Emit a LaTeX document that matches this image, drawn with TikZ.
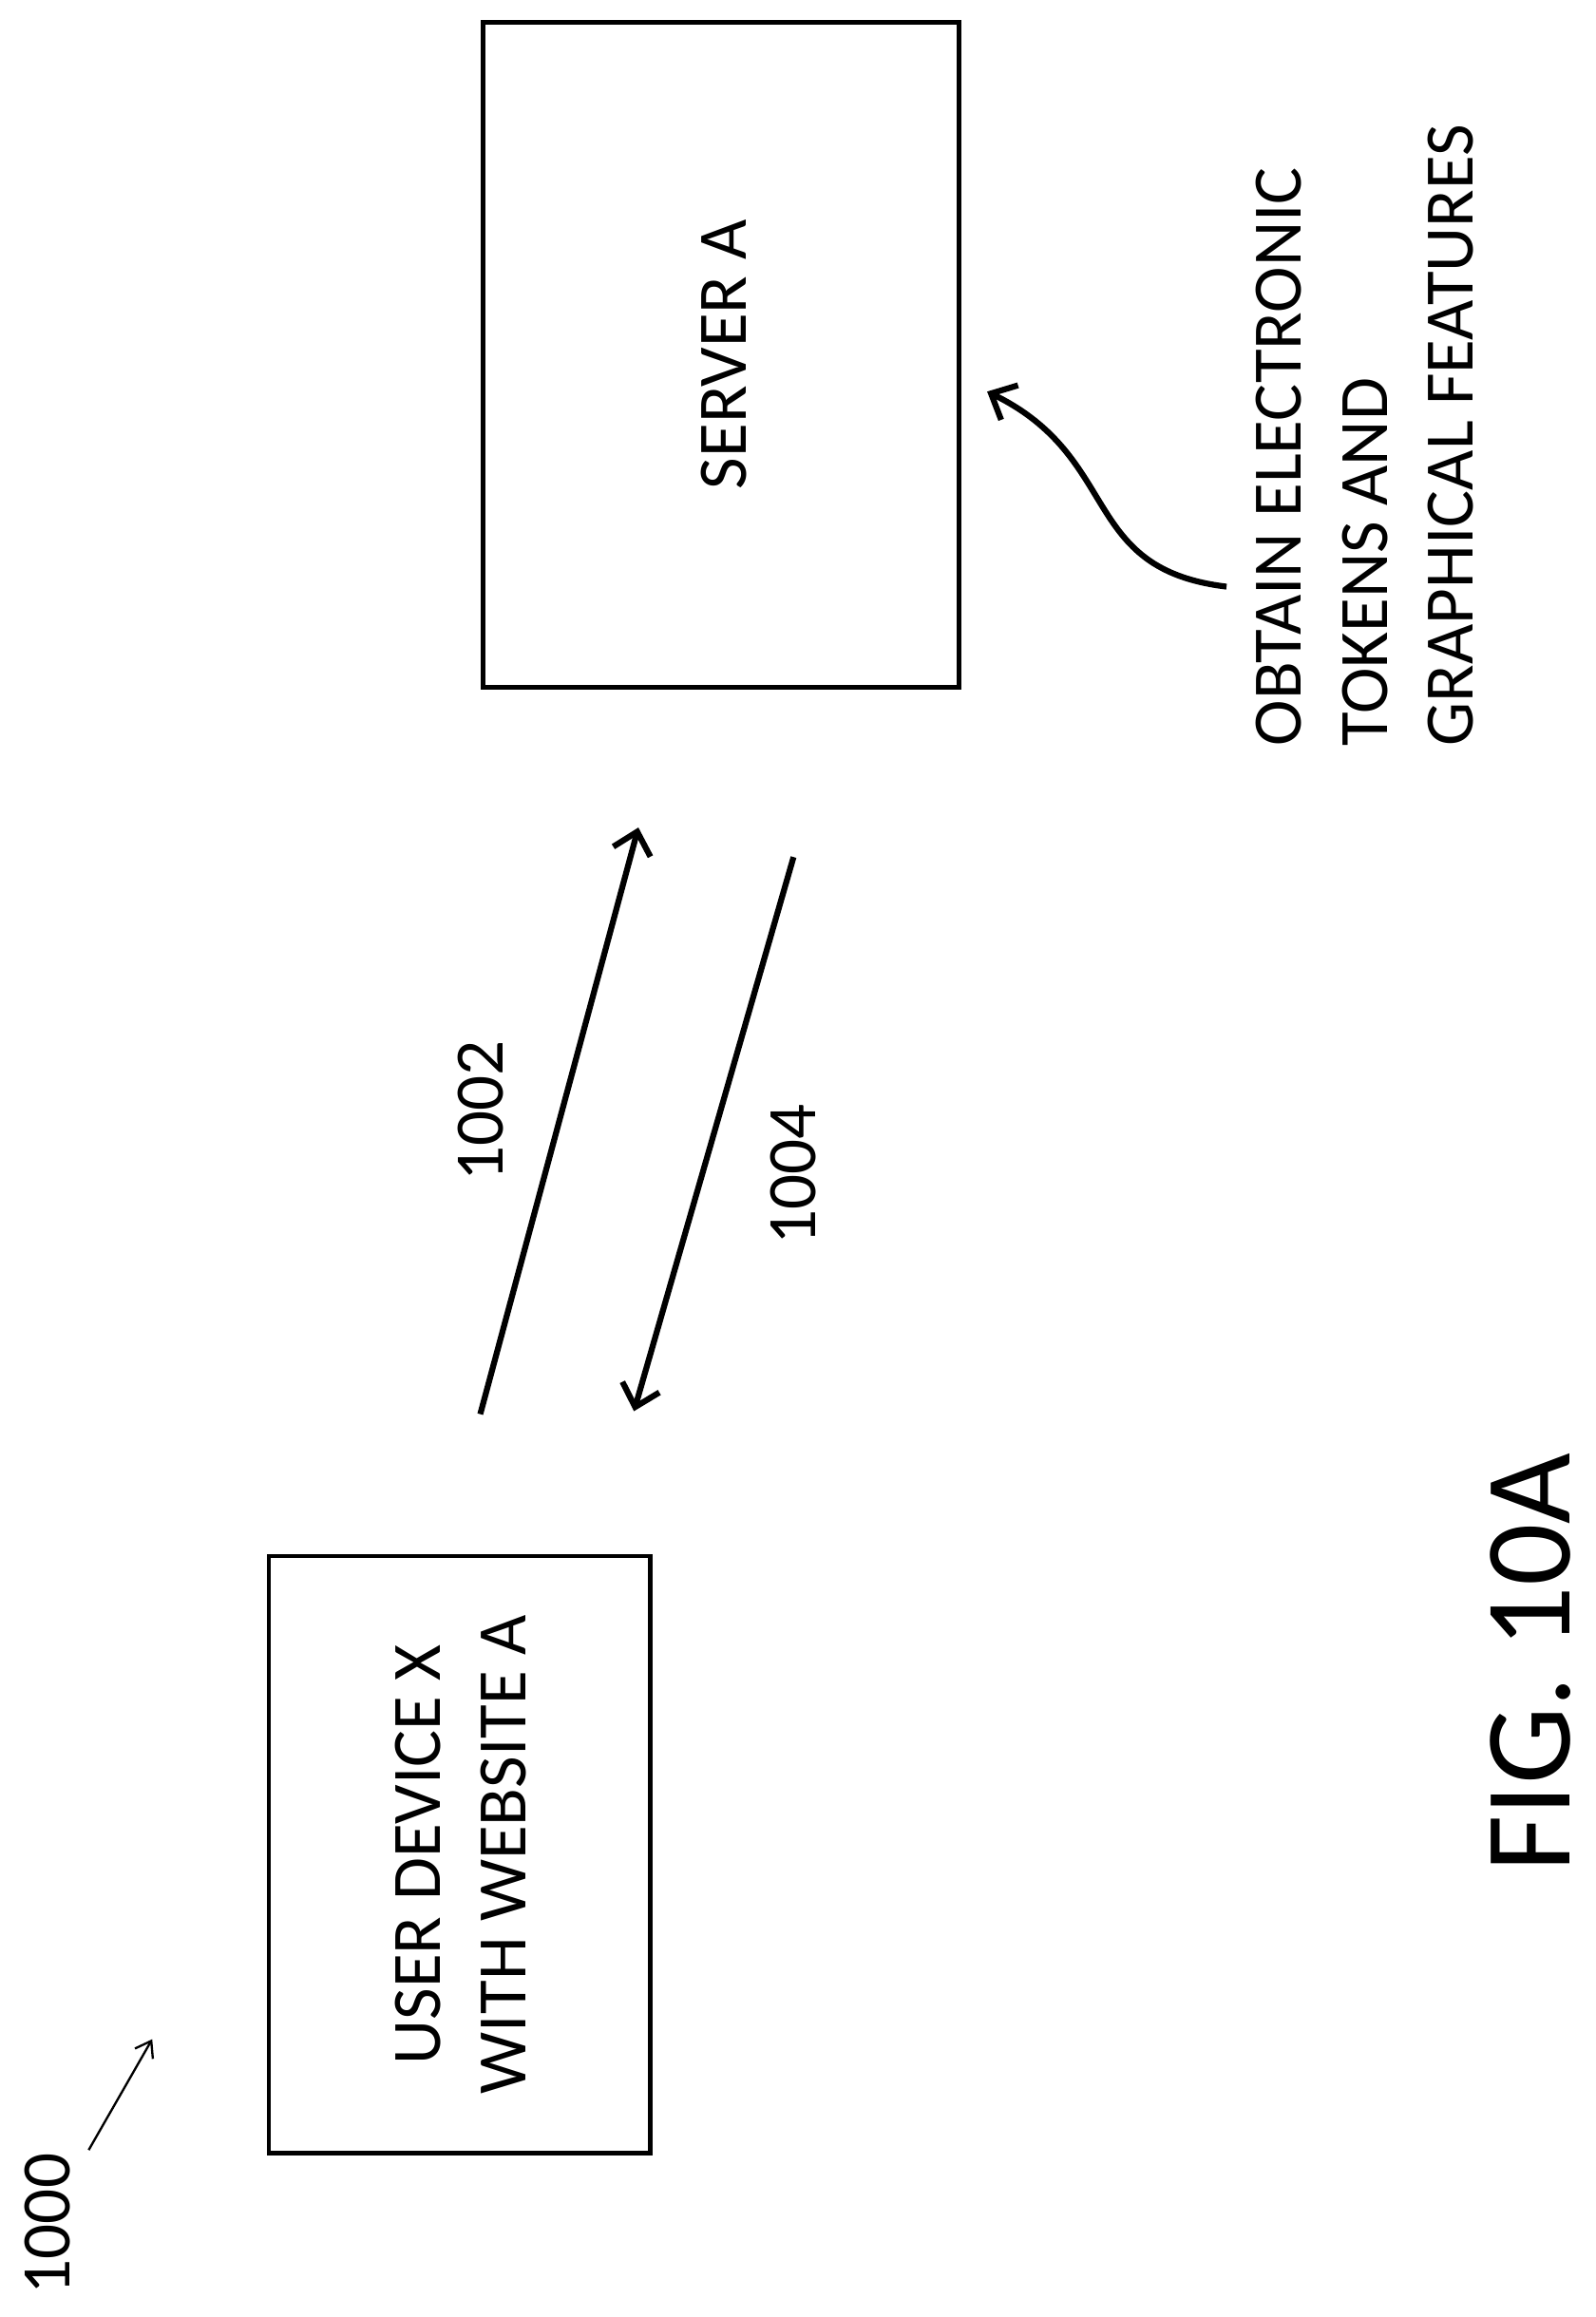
\documentclass[tikz,border=0pt]{standalone}
\usepackage{fontspec}
\setmainfont{Carlito}
\usetikzlibrary{arrows.meta}
\begin{document}
\begin{tikzpicture}[x=1pt,y=1pt,
  box/.style={draw,line width=3pt},
  lbl/.style={rotate=90,font=\fontsize{47}{58}\selectfont,align=center},
  conn/.style={line width=4pt,-{Straight Barb[length=14pt,width=26pt,line width=4pt]}}]
\useasboundingbox (0,0) rectangle (1080,-1568);
\draw[box] (327,-15) rectangle (649,-465);
\node[lbl] (srv) at (490,-240) {SERVER A};
\draw[box] (182,-1053) rectangle (440,-1457);
\node[lbl] (usr) at (312,-1255) {USER DEVICE X\\WITH WEBSITE A};
\coordinate (a1s) at (325,-957); \coordinate (a1e) at (432,-560);
\coordinate (a2s) at (537,-580); \coordinate (a2e) at (429,-955);
\draw[conn] (a1s) -- (a1e);
\draw[conn] (a2s) -- (a2e);
\node[lbl] (n1002) at (325,-752) {1002};
\node[lbl] (n1004) at (537,-795) {1004};
\node[lbl,align=left,anchor=north west,inner sep=0pt] (obt) at (850,-505) {OBTAIN ELECTRONIC\\TOKENS AND\\GRAPHICAL FEATURES};
\coordinate (cs) at (830,-397); \coordinate (ce) at (668,-265);
\draw[conn] (cs) .. controls (730,-385) and (760,-310) .. (ce);
\node[lbl,inner sep=0pt] (n1000) at (32,-1505) {1000};
\coordinate (ts) at (60,-1455); \coordinate (te) at (103,-1380);
\draw[line width=1.5pt,-{Straight Barb[length=10pt,width=14pt]}] (ts) -- (te);
\node[rotate=90,inner sep=0pt,font=\fontsize{83}{95}\selectfont] (fig) at (1036,-1125) {FIG. 10A};
\end{tikzpicture}
\end{document}
